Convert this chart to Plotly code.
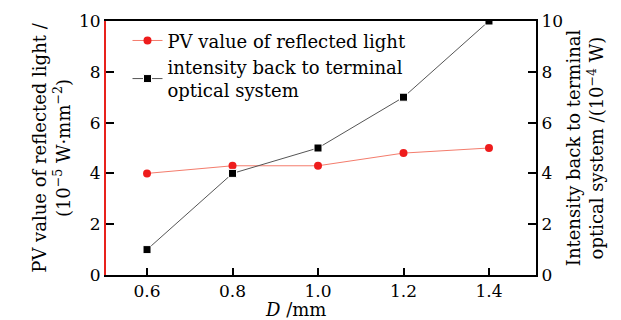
import plotly.graph_objects as go

D = [0.6, 0.8, 1.0, 1.2, 1.4]
pv_values = [4.0, 4.3, 4.3, 4.8, 5.0]
intensity_values = [1.0, 4.0, 5.0, 7.0, 10.0]
x_ticks = [0.6, 0.8, 1.0, 1.2, 1.4]
x_tick_labels = ["0.6", "0.8", "1.0", "1.2", "1.4"]
y_ticks = [0, 2, 4, 6, 8, 10]

FONT = "DejaVu Serif, Liberation Serif, serif"

fig = go.Figure()
fig.add_trace(go.Scatter(
    x=D, y=pv_values, name="PV value of reflected light",
    mode="lines+markers",
    line=dict(color="#f47c6c", width=1),
    marker=dict(symbol="circle", size=8, color="#ee1c1c"),
    yaxis="y",
))
fig.add_trace(go.Scatter(
    x=D, y=intensity_values, name="intensity back to terminal<br>optical system",
    mode="lines+markers",
    line=dict(color="#555555", width=1),
    marker=dict(symbol="square", size=8, color="black", line=dict(color="white", width=1)),
    yaxis="y2",
))

fig.update_layout(
    width=621, height=320,
    margin=dict(l=106, r=85, t=21, b=45),
    paper_bgcolor="white", plot_bgcolor="white",
    font=dict(family=FONT, size=18, color="black"),
    showlegend=True,
    legend=dict(x=0.05, y=0.995, xanchor="left", yanchor="top",
                bgcolor="rgba(0,0,0,0)", font=dict(family=FONT, size=18),
                tracegroupgap=0, itemwidth=30),
    xaxis=dict(
        range=[0.504, 1.51], tickvals=x_ticks, ticktext=x_tick_labels,
        ticks="inside", ticklen=7, tickwidth=1.5, tickcolor="black",
        showline=True, linecolor="black", linewidth=2, mirror=True,
        showgrid=False, zeroline=False, automargin=False,
        tickfont=dict(family=FONT, size=17),
    ),
    yaxis=dict(
        range=[0, 10], tickvals=y_ticks,
        ticks="inside", ticklen=8, tickwidth=1.5, tickcolor="black",
        showline=True, linecolor="#e8221c", linewidth=2,
        showgrid=False, zeroline=False, automargin=False,
        tickfont=dict(family=FONT, size=17),
        title=dict(text="PV value of reflected light /<br>(10<sup>−5</sup> W·mm<sup>−2</sup>)",
                   font=dict(family=FONT, size=18), standoff=4),
    ),
    yaxis2=dict(
        range=[0, 10], tickvals=y_ticks, overlaying="y", side="right",
        ticks="inside", ticklen=8, tickwidth=1.5, tickcolor="black",
        showline=True, linecolor="black", linewidth=2,
        showgrid=False, zeroline=False, automargin=False,
        tickfont=dict(family=FONT, size=17),
        title=dict(text="Intensity back to terminal<br>optical system /(10<sup>−4</sup> W)",
                   font=dict(family=FONT, size=18), standoff=4),
    ),
    annotations=[dict(
        text="<i>D</i> /mm", xref="paper", yref="paper", x=0.44, y=0,
        yshift=-22, xanchor="center", yanchor="top", showarrow=False,
        font=dict(family=FONT, size=18),
    )],
)

fig.write_html("out.html", config={"displayModeBar": False},
               post_script="document.body.style.margin='0';document.body.style.overflow='hidden';")
